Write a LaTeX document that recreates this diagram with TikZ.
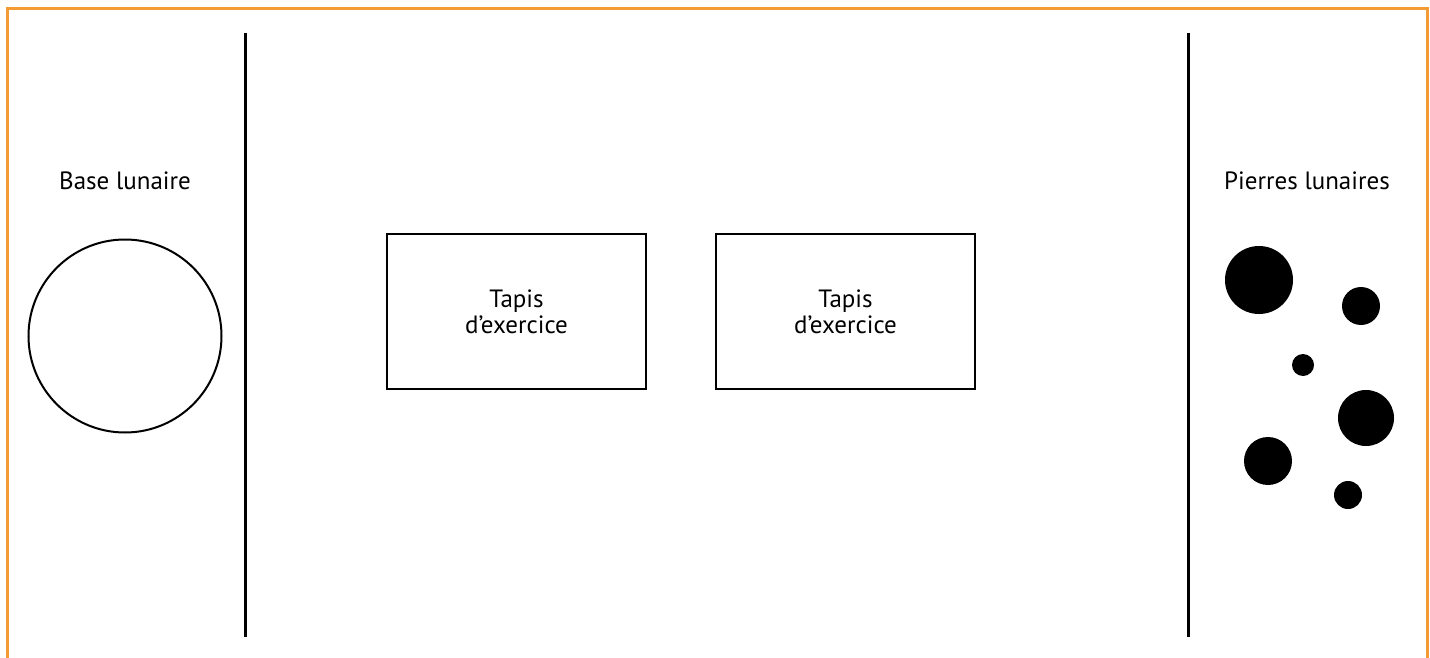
\documentclass[tikz,border=0pt]{standalone}
\usepackage{fontspec}
\setmainfont{PT Sans}
\definecolor{cadre}{HTML}{F39C35}
\tikzset{
  tapis/.style={draw, line width=2pt, minimum width=259pt, minimum height=155pt,
    align=center, font=\fontsize{25}{26}\selectfont, inner sep=0pt},
  titre/.style={font=\fontsize{25}{26}\selectfont},
  pierre/.style={fill=black},
  limite/.style={line width=3pt}
}
\begin{document}
\begin{tikzpicture}[x=1pt,y=-1pt]
  \useasboundingbox (0,0) rectangle (1430,658);
  % ===== cadre =====
  \begin{scope}
    \clip (0,0) rectangle (1430,658);
    \draw[cadre, line width=3pt] (7,700) -- (7,9) -- (1427,9) -- (1427,700);
  \end{scope}

  % ===== limites =====
  \draw[limite] (245,33) -- (245,637);
  \draw[limite] (1188,33) -- (1188,637);

  % ===== base lunaire =====
  \node[titre] (base) at (125,181) {Base lunaire};
  \draw[line width=2pt] (125,336) circle (96.5);

  % ===== tapis =====
  \node[tapis] (tapisA) at (516.5,311.5) {Tapis\\d’exercice};
  \node[tapis] (tapisB) at (845.5,311.5) {Tapis\\d’exercice};

  % ===== pierres lunaires =====
  \node[titre] (pierres) at (1307,181) {Pierres lunaires};
  \fill[pierre] (1259,280) circle (34);
  \fill[pierre] (1361,306) circle (19);
  \fill[pierre] (1303,365) circle (11);
  \fill[pierre] (1366,418) circle (28);
  \fill[pierre] (1268,461) circle (24);
  \fill[pierre] (1348,495) circle (14);
\end{tikzpicture}
\end{document}
